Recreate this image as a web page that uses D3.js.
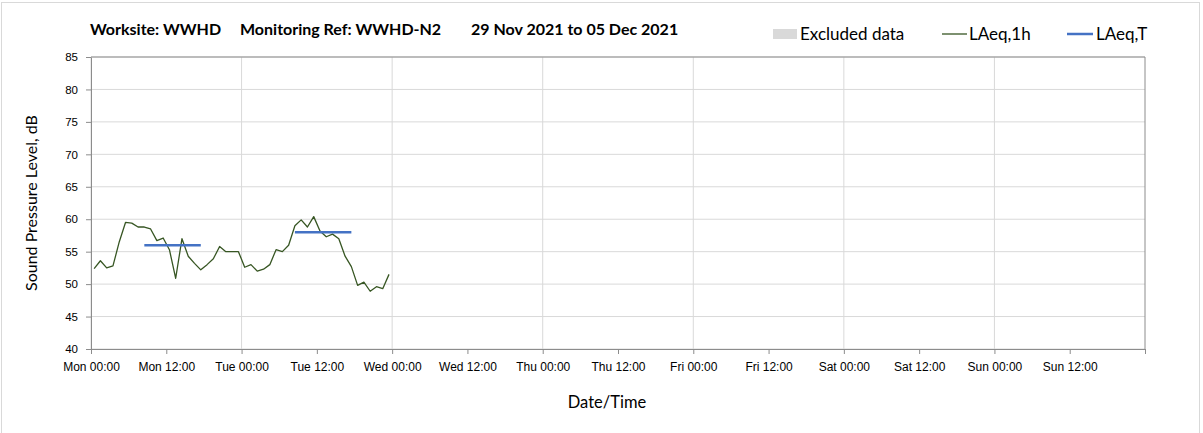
<!DOCTYPE html>
<html>
<head>
<meta charset="utf-8">
<script src="https://cdn.jsdelivr.net/npm/d3@7"></script>
<style>
  body { margin: 0; background: #fff; }
  svg { display: block; font-family: Lato, "Open Sans", sans-serif; }
</style>
</head>
<body>
<svg id="chart"></svg>
<script>
// hourly LAeq,1h readings, first one at Mon 29 Nov 00:30
const firstReading = new Date(2021, 10, 29, 0, 30);
const laeq1h = [
  52.4, 53.6, 52.5, 52.8, 56.5, 59.5, 59.4, 58.8, 58.8, 58.5, 56.7, 57.1,
  55.3, 50.9, 57.0, 54.3, 53.2, 52.2, 53.0, 53.9, 55.8, 55.0, 55.0, 55.0,
  52.6, 53.0, 52.0, 52.3, 53.0, 55.3, 55.0, 56.0, 59.0, 59.9, 58.8, 60.4,
  58.2, 57.3, 57.7, 57.0, 54.3, 52.7, 49.8, 50.3, 48.9, 49.6, 49.3, 51.5
];

// LAeq,T daytime periods
const periodStart = [new Date(2021, 10, 29, 8, 30), new Date(2021, 10, 30, 8, 30)];
const periodEnd = [new Date(2021, 10, 29, 17, 30), new Date(2021, 10, 30, 17, 30)];
const laeqT = [56.0, 58.0];

const yTicks = [40, 45, 50, 55, 60, 65, 70, 75, 80, 85];
const weekStart = new Date(2021, 10, 29);
const weekEnd = new Date(2021, 11, 6);

const titleParts = ["Worksite: WWHD", "Monitoring Ref: WWHD-N2", "29 Nov 2021 to 05 Dec 2021"];

const width = 1203;
const height = 433;
const margin = { top: 57, right: 58, bottom: 84, left: 91 };

const svg = d3.select("#chart").attr("width", width).attr("height", height);

// chart area border
svg.append("rect")
  .attr("x", 1.5).attr("y", 2.5)
  .attr("width", 1198).attr("height", 445)
  .attr("fill", "#fff")
  .attr("stroke", "#d9d9d9");

const x = d3.scaleTime()
  .domain([weekStart, weekEnd])
  .range([margin.left, width - margin.right]);

const y = d3.scaleLinear()
  .domain([40, 85])
  .range([height - margin.bottom, margin.top]);

// gridlines
svg.append("g")
  .selectAll("line")
  .data(yTicks)
  .join("line")
  .attr("x1", margin.left).attr("x2", width - margin.right)
  .attr("y1", d => y(d)).attr("y2", d => y(d))
  .attr("stroke", "#d9d9d9");

svg.append("g")
  .selectAll("line")
  .data(d3.timeDay.range(weekStart, weekEnd))
  .join("line")
  .attr("x1", d => x(d)).attr("x2", d => x(d))
  .attr("y1", margin.top).attr("y2", height - margin.bottom)
  .attr("stroke", "#d9d9d9");

// plot frame (top/right) in axis grey
svg.append("path")
  .attr("d", `M${margin.left},${margin.top}H${width - margin.right}V${height - margin.bottom}`)
  .attr("fill", "none")
  .attr("stroke", "#8c8c8c");

// Axes
const xAxis = svg.append("g")
  .attr("transform", `translate(0,${height - margin.bottom})`)
  .call(d3.axisBottom(x)
    .ticks(d3.timeHour.every(12))
    .tickSizeInner(5).tickSizeOuter(5)
    .tickFormat(d => d >= weekEnd ? "" : d3.timeFormat("%a %H:%M")(d)));
xAxis.select(".domain").attr("stroke", "#8c8c8c");
xAxis.selectAll(".tick line").attr("stroke", "#8c8c8c");
xAxis.selectAll("text")
  .attr("fill", "#000")
  .attr("font-size", 12)
  .attr("dy", "1.2em");

const yAxis = svg.append("g")
  .attr("transform", `translate(${margin.left},0)`)
  .call(d3.axisLeft(y).tickValues(yTicks).tickSizeInner(5).tickSizeOuter(0).tickPadding(8));
yAxis.select(".domain").attr("stroke", "#8c8c8c");
yAxis.selectAll(".tick line").attr("stroke", "#8c8c8c");
yAxis.selectAll("text").attr("fill", "#000").attr("font-size", 11.5);

// LAeq,1h line
const line = d3.line()
  .x((d, i) => x(d3.timeHour.offset(firstReading, i)))
  .y(d => y(d));

svg.append("path")
  .datum(laeq1h)
  .attr("d", line)
  .attr("fill", "none")
  .attr("stroke", "#375623")
  .attr("stroke-width", 1.3)
  .attr("stroke-linejoin", "round");

// LAeq,T periods
svg.append("g")
  .selectAll("line")
  .data(laeqT)
  .join("line")
  .attr("x1", (d, i) => x(periodStart[i]))
  .attr("x2", (d, i) => x(periodEnd[i]))
  .attr("y1", d => y(d)).attr("y2", d => y(d))
  .attr("stroke", "#4472c4")
  .attr("stroke-width", 2.5);

// Title
const titleX = [90, 240, 471];
svg.append("g")
  .selectAll("text")
  .data(titleParts)
  .join("text")
  .attr("x", (d, i) => titleX[i])
  .attr("y", 35)
  .attr("font-size", 16)
  .attr("font-weight", "bold")
  .text(d => d);

// Legend
const legend = svg.append("g").attr("font-size", 17);
legend.append("rect")
  .attr("x", 773).attr("y", 29).attr("width", 24).attr("height", 10)
  .attr("fill", "#d9d9d9");
legend.append("text").attr("x", 800).attr("y", 40).text("Excluded data");
legend.append("line")
  .attr("x1", 942).attr("x2", 967).attr("y1", 34).attr("y2", 34)
  .attr("stroke", "#375623").attr("stroke-width", 1.3);
legend.append("text").attr("x", 969).attr("y", 40).text("LAeq,1h");
legend.append("line")
  .attr("x1", 1067).attr("x2", 1093).attr("y1", 34).attr("y2", 34)
  .attr("stroke", "#4472c4").attr("stroke-width", 2.5);
legend.append("text").attr("x", 1096).attr("y", 40).text("LAeq,T");

// Axis titles
svg.append("text")
  .attr("x", 607).attr("y", 408)
  .attr("text-anchor", "middle")
  .attr("font-size", 16.5)
  .text("Date/Time");

svg.append("text")
  .attr("transform", `translate(37,${(margin.top + height - margin.bottom) / 2}) rotate(-90)`)
  .attr("text-anchor", "middle")
  .attr("font-size", 16)
  .text("Sound Pressure Level, dB");
</script>
</body>
</html>
